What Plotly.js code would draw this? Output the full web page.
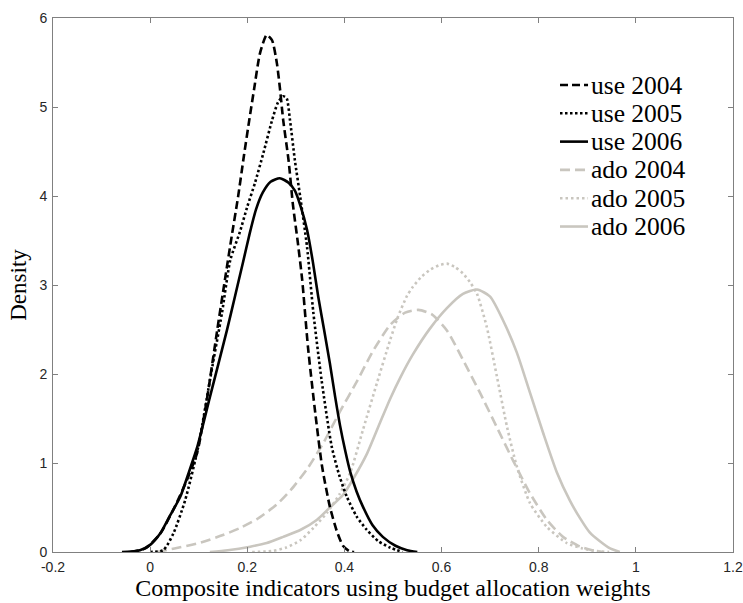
<!DOCTYPE html>
<html>
<head>
<meta charset="utf-8">
<script src="https://cdn.plot.ly/plotly-3.0.1.min.js"></script>
<style>html,body{margin:0;padding:0;background:#fff;}#chart{width:743px;height:603px;}</style>
</head>
<body>
<div id="chart"></div>
<script>
// ---- data (kernel density curves) ----
var seriesNames = ["use 2004", "use 2005", "use 2006", "ado 2004", "ado 2005", "ado 2006"];

var use2004X = [-0.04, -0.01, 0.02, 0.05, 0.075, 0.097, 0.117, 0.138, 0.154, 0.168, 0.181, 0.193, 0.204, 0.214, 0.226, 0.240, 0.251, 0.261, 0.267, 0.274, 0.285, 0.294, 0.304, 0.313, 0.325, 0.340, 0.354, 0.370, 0.384, 0.397, 0.41, 0.42];
var use2004Y = [0, 0.04, 0.2, 0.5, 0.8, 1.12, 1.72, 2.49, 3.06, 3.55, 3.99, 4.45, 4.85, 5.2, 5.6, 5.81, 5.75, 5.49, 5.22, 4.85, 4.40, 3.9, 3.48, 3.06, 2.30, 1.56, 0.96, 0.51, 0.24, 0.07, 0.01, 0];

var use2005X = [0.0, 0.027, 0.048, 0.072, 0.099, 0.123, 0.148, 0.165, 0.185, 0.2, 0.216, 0.233, 0.251, 0.263, 0.274, 0.281, 0.288, 0.298, 0.309, 0.323, 0.336, 0.353, 0.374, 0.39, 0.405, 0.425, 0.446, 0.47, 0.494, 0.52];
var use2005Y = [0, 0.02, 0.21, 0.58, 1.18, 1.93, 2.69, 3.28, 3.6, 3.88, 4.15, 4.48, 4.85, 5.05, 5.12, 5.1, 4.85, 4.40, 3.99, 3.43, 2.69, 1.93, 1.18, 0.85, 0.62, 0.4, 0.25, 0.12, 0.05, 0];

var use2006X = [-0.058, -0.04, -0.021, 0.0, 0.021, 0.04, 0.062, 0.08, 0.097, 0.123, 0.158, 0.175, 0.191, 0.205, 0.218, 0.232, 0.248, 0.267, 0.285, 0.298, 0.31, 0.323, 0.335, 0.346, 0.358, 0.370, 0.381, 0.391, 0.402, 0.412, 0.425, 0.438, 0.458, 0.479, 0.505, 0.529, 0.55];
var use2006Y = [0, 0.005, 0.02, 0.08, 0.21, 0.4, 0.62, 0.9, 1.18, 1.74, 2.49, 2.88, 3.25, 3.58, 3.85, 4.04, 4.16, 4.2, 4.15, 4.06, 3.88, 3.62, 3.26, 2.87, 2.5, 2.12, 1.74, 1.42, 1.13, 0.9, 0.68, 0.51, 0.3, 0.17, 0.07, 0.02, 0];

var ado2004X = [0.014, 0.05, 0.1, 0.15, 0.185, 0.22, 0.26, 0.29, 0.323, 0.356, 0.391, 0.426, 0.459, 0.494, 0.525, 0.552, 0.58, 0.611, 0.644, 0.679, 0.714, 0.747, 0.782, 0.817, 0.850, 0.885, 0.91, 0.932];
var ado2004Y = [0, 0.04, 0.1, 0.19, 0.27, 0.37, 0.53, 0.7, 0.93, 1.22, 1.58, 1.92, 2.26, 2.55, 2.69, 2.72, 2.67, 2.49, 2.16, 1.79, 1.40, 1.03, 0.66, 0.36, 0.17, 0.06, 0.02, 0];

var ado2005X = [0.21, 0.25, 0.28, 0.309, 0.336, 0.364, 0.39, 0.412, 0.438, 0.467, 0.494, 0.51, 0.529, 0.541, 0.558, 0.576, 0.594, 0.611, 0.628, 0.644, 0.66, 0.673, 0.693, 0.714, 0.735, 0.755, 0.782, 0.817, 0.858, 0.89, 0.92, 0.945];
var ado2005Y = [0, 0.01, 0.05, 0.13, 0.27, 0.44, 0.65, 0.89, 1.37, 1.9, 2.38, 2.64, 2.88, 2.98, 3.09, 3.17, 3.22, 3.24, 3.2, 3.13, 3.02, 2.9, 2.53, 1.97, 1.40, 0.96, 0.55, 0.28, 0.10, 0.04, 0.01, 0];

var ado2006X = [0.123, 0.16, 0.206, 0.24, 0.274, 0.31, 0.343, 0.37, 0.397, 0.42, 0.446, 0.473, 0.494, 0.515, 0.541, 0.576, 0.611, 0.644, 0.673, 0.700, 0.726, 0.755, 0.782, 0.809, 0.837, 0.864, 0.885, 0.905, 0.926, 0.947, 0.967];
var ado2006Y = [0, 0.02, 0.06, 0.1, 0.17, 0.25, 0.36, 0.5, 0.64, 0.84, 1.1, 1.45, 1.72, 1.96, 2.22, 2.51, 2.74, 2.9, 2.95, 2.87, 2.61, 2.24, 1.79, 1.34, 0.9, 0.58, 0.38, 0.22, 0.12, 0.04, 0];

var xTickVals = [-0.2, 0, 0.2, 0.4, 0.6, 0.8, 1, 1.2];
var xTickText = ["-0.2", "0", "0.2", "0.4", "0.6", "0.8", "1", "1.2"];
var yTickVals = [0, 1, 2, 3, 4, 5, 6];
var yTickText = ["0", "1", "2", "3", "4", "5", "6"];

// ---- styles ----
var BLACK = "#000000";
var GRAY = "#c9c6bf";
var SERIF = "Liberation Serif";
var styles = [
  {color: BLACK, dash: "8px,4px"},
  {color: BLACK, dash: "2.5px,2.5px"},
  {color: BLACK, dash: "solid"},
  {color: GRAY, dash: "10px,5px"},
  {color: GRAY, dash: "2.5px,3px"},
  {color: GRAY, dash: "solid"}
];
var xs = [use2004X, use2005X, use2006X, ado2004X, ado2005X, ado2006X];
var ys = [use2004Y, use2005Y, use2006Y, ado2004Y, ado2005Y, ado2006Y];

// draw order: gray below black
var order = [3, 4, 5, 0, 1, 2];
var traces = order.map(function (i) {
  return {
    type: "scatter", mode: "lines",
    x: xs[i], y: ys[i], name: seriesNames[i],
    line: {color: styles[i].color, dash: styles[i].dash, width: 2.6, shape: "spline", smoothing: 0.6},
    showlegend: false, hoverinfo: "skip"
  };
});

// ---- hand-built legend (tight row spacing like the original) ----
var shapes = [];
var annotations = [];
var legX0 = 0.7456, legX1 = 0.7868, legTextX = 0.790;
var legTop = 0.8745, legStep = 0.053;
for (var k = 0; k < seriesNames.length; k++) {
  var yy = legTop - k * legStep;
  shapes.push({type: "line", xref: "paper", yref: "paper", x0: legX0, x1: legX1, y0: yy, y1: yy,
    line: {color: styles[k].color, dash: styles[k].dash, width: 2.6}});
  annotations.push({xref: "paper", yref: "paper", x: legTextX, y: yy, xanchor: "left", yanchor: "middle",
    showarrow: false, text: seriesNames[k], borderpad: 0,
    font: {family: SERIF, size: 25.5, color: "#000"}});
}

var axisCommon = {
  showgrid: false, zeroline: false, showline: true, linecolor: "#808080", linewidth: 1,
  mirror: "ticks", ticks: "inside", ticklen: 5, tickwidth: 1, tickcolor: "#808080",
  tickfont: {family: "Liberation Sans", size: 14, color: "#262626"}
};

var layout = {
  width: 743, height: 603,
  margin: {l: 53, r: 10, t: 18, b: 51, pad: 0},
  paper_bgcolor: "#fff", plot_bgcolor: "#fff",
  showlegend: false,
  xaxis: Object.assign({}, axisCommon, {
    range: [-0.2, 1.2], tickmode: "array", tickvals: xTickVals, ticktext: xTickText,
    ticklabelstandoff: 2,
    title: {text: "Composite indicators using budget allocation weights", standoff: 4,
      font: {family: SERIF, size: 24, color: "#000"}}
  }),
  yaxis: Object.assign({}, axisCommon, {
    range: [0, 6], tickmode: "array", tickvals: yTickVals, ticktext: yTickText,
    ticklabelstandoff: 2,
    title: {text: "Density", standoff: 6,
      font: {family: SERIF, size: 23, color: "#000"}}
  }),
  shapes: shapes,
  annotations: annotations
};

Plotly.newPlot("chart", traces, layout, {displayModeBar: false, staticPlot: true});
</script>
</body>
</html>
